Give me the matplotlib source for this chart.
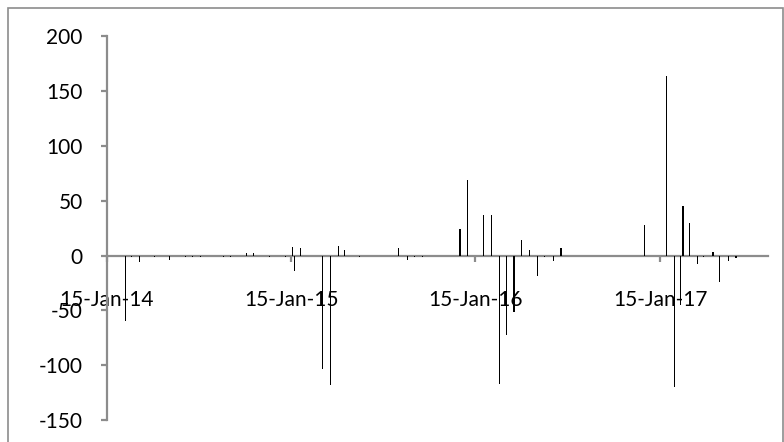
import matplotlib
matplotlib.use('Agg')
import matplotlib.pyplot as plt
import matplotlib.dates as mdates
from matplotlib.patches import Rectangle
import datetime as dt

# ---- data ----
dates = [
    "2014-02-20", "2014-03-05", "2014-03-20", "2014-04-19", "2014-05-18",
    "2014-06-19", "2014-07-04", "2014-07-20", "2014-09-02", "2014-09-17",
    "2014-10-18", "2014-11-02", "2014-12-03", "2015-01-03", "2015-01-17",
    "2015-01-21", "2015-02-02", "2015-03-19", "2015-04-02", "2015-04-18",
    "2015-05-01", "2015-05-31", "2015-08-16", "2015-09-02", "2015-09-17",
    "2015-10-02", "2015-12-15", "2015-12-17", "2015-12-31", "2016-02-01",
    "2016-02-16", "2016-03-03", "2016-03-16", "2016-03-31", "2016-04-02",
    "2016-04-16", "2016-05-02", "2016-05-17", "2016-06-01", "2016-06-17",
    "2016-07-01", "2016-07-03", "2016-12-16", "2017-01-27", "2017-02-13",
    "2017-02-24", "2017-03-01", "2017-03-03", "2017-03-14", "2017-03-30",
    "2017-04-12", "2017-04-30", "2017-05-12", "2017-05-30", "2017-06-13",
    "2017-06-15",
]
values = [
    -60, -1, -6, -1, -4,
    -1, -1, -1, -1, -1,
    2, 2, -1, -1, 8,
    -14, 7, -103, -118, 9,
    5, -1, 7, -4, -1,
    -1, 24, 24, 69, 37,
    37, -117, -72, -51, -51,
    14, 5, -19, -1, -5,
    7, 7, 28, 164, -120,
    -45, 45, 45, 30, -8,
    -1, 3, -24, -5, -2,
    -2,
]
tick_dates = ["2014-01-15", "2015-01-15", "2016-01-15", "2017-01-15"]
y_ticks = [-150, -100, -50, 0, 50, 100, 150, 200]

x_start = "2014-01-15"
x_end = "2017-08-17"

def d(s):
    return dt.datetime.strptime(s, "%Y-%m-%d")

plt.rcParams['font.family'] = ['Lato', 'DejaVu Sans']
plt.rcParams['axes.unicode_minus'] = False

fig = plt.figure(figsize=(7.84, 4.42), dpi=100)
W, H = 784, 442
ax = fig.add_axes([107 / W, (H - 420) / H, 661 / W, 383.5 / H])

xd = [d(s) for s in dates]
ax.bar(xd, values, width=2.0, color='black', linewidth=0, antialiased=False, zorder=3)

ax.set_xlim(d(x_start), d(x_end))
ax.set_ylim(-150, 200)
ax.set_yticks(y_ticks)
ax.set_xticks([d(s) for s in tick_dates])
ax.xaxis.set_major_formatter(mdates.DateFormatter('%d-%b-%y'))

grey = '#8c8c8c'
for s in ['top', 'right']:
    ax.spines[s].set_visible(False)
ax.spines['bottom'].set_position(('data', 0))
ax.spines['bottom'].set_color(grey)
ax.spines['bottom'].set_linewidth(1.6)
ax.spines['bottom'].set_zorder(2)
ax.spines['left'].set_color(grey)
ax.spines['left'].set_linewidth(1.6)

ax.tick_params(axis='x', direction='out', length=4.5, width=1.6, color=grey,
               pad=20, labelsize=15, labelcolor='black')
ax.tick_params(axis='y', direction='out', length=4.5, width=1.6, color=grey,
               pad=13, labelsize=15, labelcolor='black')

fig.add_artist(Rectangle((8 / W, -0.01), (783.3 - 8) / W, 1.01 - 8 / H,
                         transform=fig.transFigure, fill=False,
                         edgecolor='#8c8c8c', linewidth=1.2, clip_on=False))

fig.savefig('out.png', dpi=100)
